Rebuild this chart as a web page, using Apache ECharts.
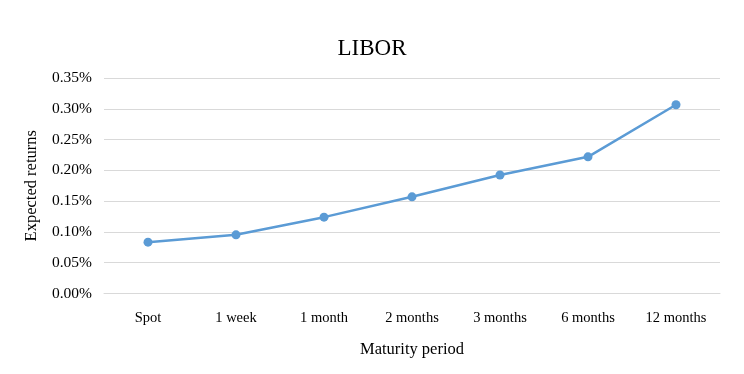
<!DOCTYPE html>
<html><head><meta charset="utf-8">
<script src="https://cdn.jsdelivr.net/npm/echarts@6/dist/echarts.min.js"></script>
<style>html,body{margin:0;padding:0;background:#fff}#c{width:744px;height:374px}</style>
</head><body><div id="c"></div>
<script>
const categories = ['Spot','1 week','1 month','2 months','3 months','6 months','12 months'];
const values = [0.0834, 0.0953, 0.124, 0.157, 0.1925, 0.222, 0.3065];
const yTicks = [0, 0.05, 0.10, 0.15, 0.20, 0.25, 0.30, 0.35];
const F = '"Liberation Serif","Times New Roman",serif';
const chart = echarts.init(document.getElementById('c'), null, {renderer:'canvas'});
chart.setOption({
  animation:false,
  title:{text:'LIBOR', left:'center', top:32, textStyle:{fontFamily:F, fontSize:23, fontWeight:'normal', color:'#000'}},
  grid:{left:104, right:24, top:78, bottom:80.5},
  xAxis:{type:'category', data:categories, boundaryGap:true,
    name:'Maturity period', nameLocation:'middle', nameGap:48,
    nameTextStyle:{fontFamily:F, fontSize:16.5, color:'#000'},
    axisLine:{show:true, lineStyle:{color:'#d9d9d9'}}, axisTick:{show:false},
    axisLabel:{fontFamily:F, fontSize:14.5, color:'#000', margin:17}},
  yAxis:{type:'value', min:0, max:0.35, interval:0.05,
    name:'Expected returns', nameLocation:'middle', nameGap:64,
    nameTextStyle:{fontFamily:F, fontSize:16.5, color:'#000'},
    axisLine:{show:false}, axisTick:{show:false},
    splitLine:{lineStyle:{color:'#d9d9d9', width:1}},
    axisLabel:{fontFamily:F, fontSize:15.5, color:'#000', margin:12,
      formatter:v=>{const t=yTicks.find(x=>Math.abs(x-v)<1e-9);return (t!==undefined?t:v).toFixed(2)+'%';}}},
  series:[{type:'line', data:values, color:'#5B9BD5', symbol:'circle', symbolSize:9,
    lineStyle:{width:2.5, color:'#5B9BD5'}, itemStyle:{color:'#5B9BD5'}}]
});
</script></body></html>
